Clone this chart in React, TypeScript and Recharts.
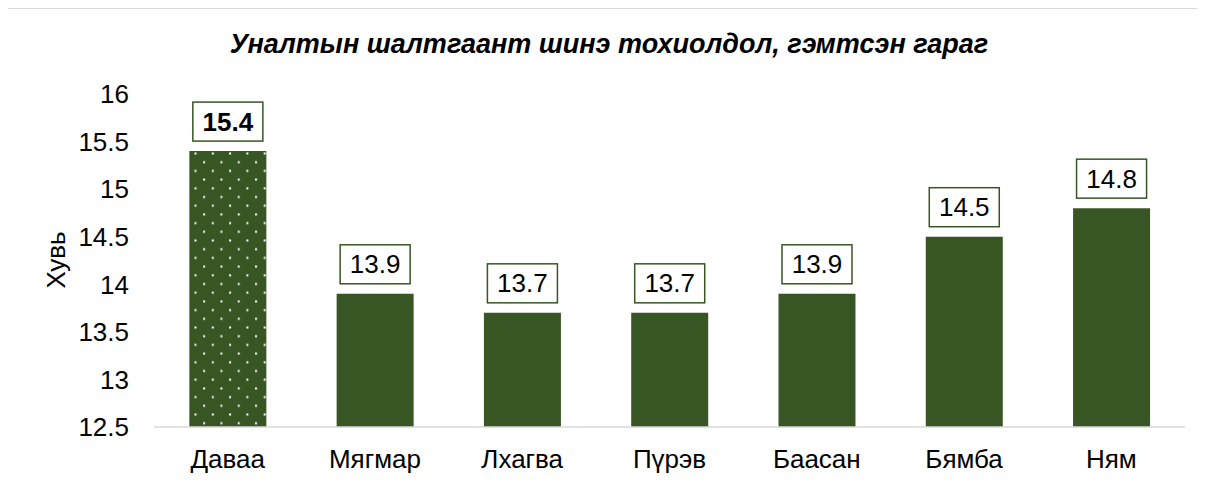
import { BarChart, Bar, XAxis, YAxis, Cell, LabelList } from "recharts";

const days = ["Даваа", "Мягмар", "Лхагва", "Пүрэв", "Баасан", "Бямба", "Ням"];
const shares = [15.4, 13.9, 13.7, 13.7, 13.9, 14.5, 14.8];
const yTicks = [12.5, 13, 13.5, 14, 14.5, 15, 15.5, 16];

const title = "Уналтын шалтгаант шинэ тохиолдол, гэмтсэн гараг";
const yTitle = "Хувь";

const data = days.map((day, i) => ({ day, value: shares[i] }));

const GREEN = "#375623";
const FONT = "'Liberation Sans', Arial, sans-serif";

function ValueBox(props: any) {
  const { x, y, width, value, index } = props;
  const cx = x + width / 2;
  const boxW = 70;
  const boxH = 39;
  const bottom = y - 10;
  return (
    <g>
      <rect
        x={cx - boxW / 2}
        y={bottom - boxH}
        width={boxW}
        height={boxH}
        fill="#fff"
        stroke={GREEN}
        strokeWidth={1.5}
      />
      <text
        x={cx}
        y={bottom - boxH / 2}
        textAnchor="middle"
        dominantBaseline="central"
        fontSize={26}
        fontWeight={index === 0 ? "bold" : "normal"}
        fontFamily={FONT}
        fill="#000"
      >
        {value}
      </text>
    </g>
  );
}

export default function App() {
  return (
    <div
      style={{
        position: "relative",
        width: 1190,
        height: 468,
        marginLeft: -1,
        boxSizing: "border-box",
        borderTop: "1px solid #d9d9d9",
        borderLeft: "1px solid #d9d9d9",
        fontFamily: FONT,
      }}
    >
      <div
        style={{
          position: "absolute",
          top: 22,
          left: 0,
          width: 1202,
          textAlign: "center",
          fontSize: 27,
          lineHeight: "27px",
          fontWeight: "bold",
          fontStyle: "italic",
          color: "#000",
        }}
      >
        {title}
      </div>
      <BarChart
        width={1189}
        height={467}
        data={data}
        margin={{ top: 85, right: 12, left: 0, bottom: 0 }}
        barCategoryGap="24%"
      >
        <defs>
          <pattern id="dots" width={17.3} height={17.4} patternUnits="userSpaceOnUse">
            <rect width={17.3} height={17.4} fill={GREEN} />
            <rect x={13.5} y={4.3} width={2} height={2} fill="#fff" />
            <rect x={4.85} y={13} width={2} height={2} fill="#fff" />
          </pattern>
        </defs>
        <XAxis
          dataKey="day"
          height={49}
          tickLine={false}
          axisLine={{ stroke: "#d9d9d9", strokeWidth: 1.5 }}
          tickMargin={17}
          tick={{ fontSize: 26, fill: "#000", fontFamily: FONT }}
        />
        <YAxis
          width={146}
          domain={[12.5, 16]}
          ticks={yTicks}
          allowDataOverflow
          axisLine={false}
          tickLine={false}
          tickMargin={19}
          tick={{ fontSize: 26, fill: "#000", fontFamily: FONT }}
          label={{
            content: () => (
              <text
                x={48}
                y={251}
                transform="rotate(-90 48 251)"
                textAnchor="middle"
                dominantBaseline="central"
                fontSize={26}
                fontFamily={FONT}
                fill="#000"
              >
                {yTitle}
              </text>
            ),
          }}
        />
        <Bar dataKey="value" isAnimationActive={false}>
          {data.map((d, i) => (
            <Cell key={d.day} fill={i === 0 ? "url(#dots)" : GREEN} />
          ))}
          <LabelList dataKey="value" content={ValueBox} />
        </Bar>
      </BarChart>
    </div>
  );
}
